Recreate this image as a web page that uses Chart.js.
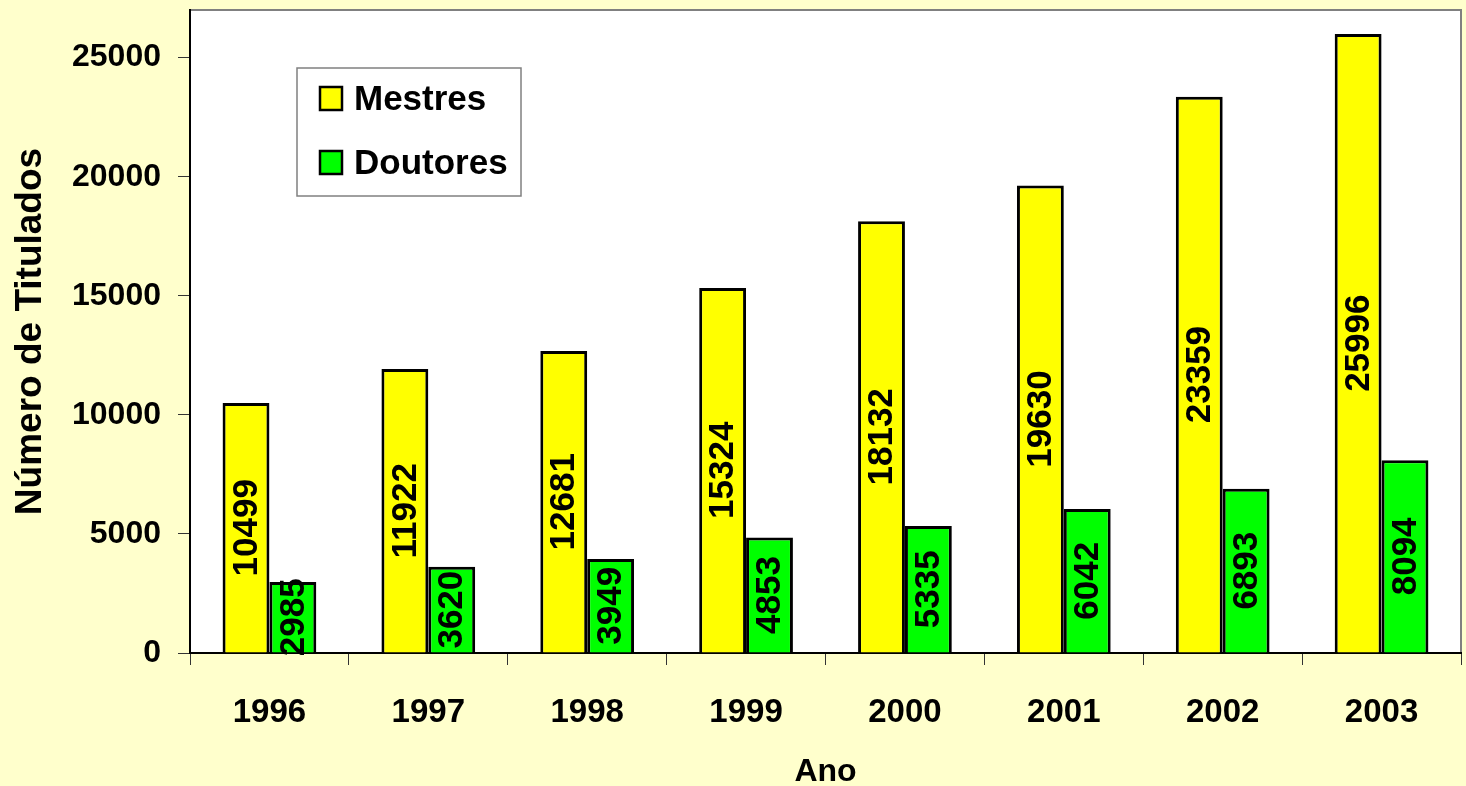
<!DOCTYPE html>
<html>
<head>
<meta charset="utf-8">
<script src="https://cdn.jsdelivr.net/npm/chart.js@4/dist/chart.umd.min.js"></script>
<style>
  html, body { margin: 0; padding: 0; background: #FFFFCC; }
  #wrap { width: 1466px; height: 786px; }
</style>
</head>
<body>
<div id="wrap"><canvas id="grafico" width="1466" height="786"></canvas></div>
<script>
const anos = ["1996", "1997", "1998", "1999", "2000", "2001", "2002", "2003"];
const mestres = [10499, 11922, 12681, 15324, 18132, 19630, 23359, 25996];
const doutores = [2985, 3620, 3949, 4853, 5335, 6042, 6893, 8094];
const yTicks = [0, 5000, 10000, 15000, 20000, 25000];

const FONTE = "Arial, 'Liberation Sans', sans-serif";

// fundo branco da area do grafico + moldura cinza
const fundoPlot = {
    id: "fundoPlot",
    beforeDraw(chart) {
        const { ctx, chartArea: a } = chart;
        ctx.save();
        ctx.fillStyle = "#FFFFCC";
        ctx.fillRect(0, 0, chart.width, chart.height);
        ctx.fillStyle = "#FFFFFF";
        ctx.fillRect(a.left, a.top, a.right - a.left, a.bottom - a.top);
        ctx.strokeStyle = "#808080";
        ctx.lineWidth = 2;
        ctx.beginPath();
        ctx.moveTo(a.left, a.top);
        ctx.lineTo(a.right, a.top);
        ctx.lineTo(a.right, a.bottom);
        ctx.stroke();
        ctx.restore();
    }
};

// valores verticais dentro das barras
const rotulos = {
    id: "rotulos",
    afterDatasetsDraw(chart) {
        const { ctx } = chart;
        ctx.save();
        ctx.font = "bold 35px " + FONTE;
        ctx.fillStyle = "#000";
        ctx.textAlign = "center";
        ctx.textBaseline = "middle";
        chart.data.datasets.forEach((ds, i) => {
            chart.getDatasetMeta(i).data.forEach((bar, j) => {
                const yc = (bar.y + bar.base) / 2;
                ctx.save();
                ctx.translate(bar.x, yc);
                ctx.rotate(-Math.PI / 2);
                ctx.fillText(String(ds.data[j]), 0, 1);
                ctx.restore();
            });
        });
        ctx.restore();
    }
};

// legenda dentro da area do grafico
const legendaCaixa = {
    id: "legendaCaixa",
    afterDraw(chart) {
        const { ctx, chartArea: a } = chart;
        const x = a.left + 107, y = a.top + 58, w = 224, h = 128;
        ctx.save();
        ctx.fillStyle = "#FFFFFF";
        ctx.fillRect(x, y, w, h);
        ctx.strokeStyle = "#808080";
        ctx.lineWidth = 1.5;
        ctx.strokeRect(x, y, w, h);
        ctx.font = "bold 35px " + FONTE;
        ctx.textBaseline = "middle";
        ctx.textAlign = "left";
        chart.data.datasets.forEach((ds, i) => {
            const sy = y + 19 + i * 64;
            ctx.fillStyle = ds.backgroundColor;
            ctx.fillRect(x + 23, sy, 22, 23);
            ctx.strokeStyle = "#000";
            ctx.lineWidth = 2.5;
            ctx.strokeRect(x + 23, sy, 22, 23);
            ctx.fillStyle = "#000";
            ctx.fillText(ds.label, x + 57, sy + 13);
        });
        ctx.restore();
    }
};

new Chart(document.getElementById("grafico"), {
    type: "bar",
    data: {
        labels: anos,
        datasets: [
            {
                label: "Mestres",
                data: mestres,
                backgroundColor: "#FFFF00",
                borderColor: "#000000",
                borderWidth: 3,
                borderSkipped: "bottom"
            },
            {
                label: "Doutores",
                data: doutores,
                backgroundColor: "#00FF00",
                borderColor: "#000000",
                borderWidth: 3,
                borderSkipped: "bottom"
            }
        ]
    },
    options: {
        responsive: false,
        animation: false,
        devicePixelRatio: 1,
        layout: { padding: { top: 10, right: 5, left: 0, bottom: 0 } },
        datasets: { bar: { categoryPercentage: 0.59, barPercentage: 1.0 } },
        plugins: {
            legend: { display: false },
            tooltip: { enabled: false }
        },
        scales: {
            x: {
                afterFit(s) {
                    s.height = 133;
                    s.paddingLeft = 0;
                    s.paddingRight = 0;
                },
                grid: {
                    offset: true,
                    drawOnChartArea: false,
                    drawTicks: true,
                    tickLength: 12,
                    color: "#333"
                },
                border: { color: "#000", width: 2 },
                ticks: {
                    color: "#000",
                    padding: 28,
                    font: { family: FONTE, size: 33, weight: "bold" }
                },
                title: {
                    display: true,
                    text: "Ano",
                    color: "#000",
                    padding: { top: 0, bottom: 1 },
                    font: { family: FONTE, size: 32, weight: "bold", lineHeight: 0.8 }
                }
            },
            y: {
                min: 0,
                max: 27000,
                afterFit(s) {
                    s.width = 190;
                    s.paddingTop = 0;
                    s.paddingBottom = 0;
                },
                afterBuildTicks(s) {
                    s.ticks = yTicks.map(v => ({ value: v }));
                },
                grid: {
                    drawOnChartArea: false,
                    drawTicks: true,
                    tickLength: 12,
                    color: "#333"
                },
                border: { color: "#000", width: 2 },
                ticks: {
                    color: "#000",
                    padding: 17,
                    font: { family: FONTE, size: 32, weight: "bold" },
                    callback: v => String(v)
                },
                title: {
                    display: true,
                    text: "Número de Titulados",
                    color: "#000",
                    padding: { top: 9, bottom: 0 },
                    font: { family: FONTE, size: 37, weight: "bold" }
                }
            }
        }
    },
    plugins: [fundoPlot, rotulos, legendaCaixa]
});
</script>
</body>
</html>
